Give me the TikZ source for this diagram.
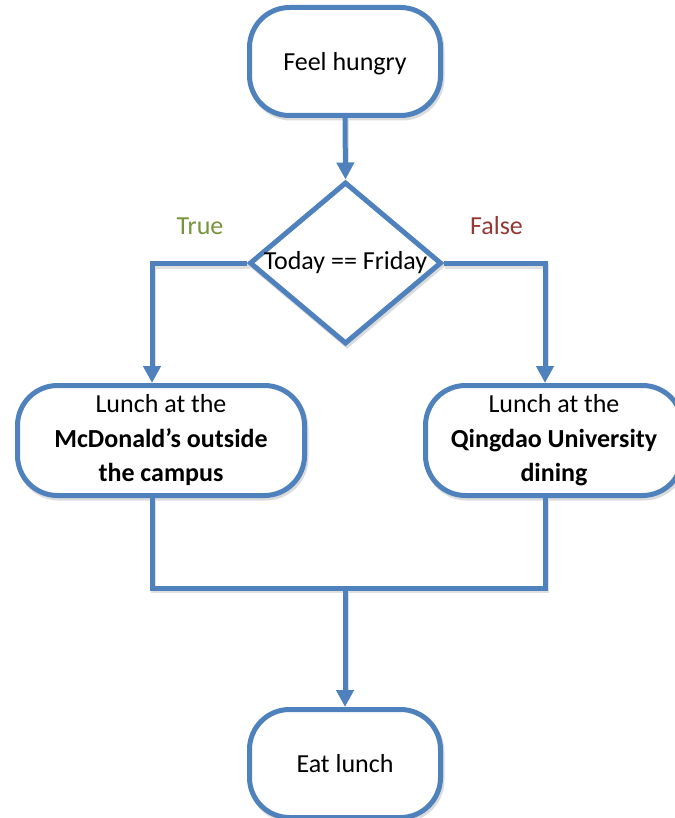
\documentclass[tikz,border=0pt]{standalone}
\usepackage{fontspec}
\setmainfont{Carlito}
\usetikzlibrary{shapes.geometric,arrows.meta}
\definecolor{flowblue}{HTML}{4F81BD}
\definecolor{truegreen}{HTML}{77933C}
\definecolor{falsered}{HTML}{953735}
\tikzset{
  shadowed/.style={preaction={draw=black!14, line width=5pt, transform canvas={shift={(1.5pt,-2.5pt)}}}},
  term/.style={shadowed, draw=flowblue, line width=5pt, rounded corners=40pt, fill=white,
    minimum width=191pt, minimum height=108pt, inner sep=0pt, align=center,
    font=\fontsize{26}{34.5}\selectfont},
  decision/.style={shadowed, draw=flowblue, line width=5pt, fill=white, shape=diamond,
    minimum width=192pt, minimum height=162pt, inner sep=0pt},
  lbl/.style={font=\fontsize{26}{34.5}\selectfont, inner sep=0pt},
  conn/.style={draw=flowblue, line width=5pt, -{Triangle[width=17pt,length=17pt]}},
  plainconn/.style={draw=flowblue, line width=5pt},
  lshadow/.style={draw=black!12, line width=5pt, transform canvas={shift={(1.5pt,-2.5pt)}}},
}
\begin{document}
\begin{tikzpicture}[x=1pt,y=-1pt]
\useasboundingbox (0,0) rectangle (674,818);
\coordinate (lx) at (152,0);
\coordinate (rx) at (545,0);
\coordinate (jy) at (0,588);
\coordinate (j) at (345,588);
% shadows of connectors
\begin{scope}
\draw[lshadow] (345,118) -- (345,172);
\draw[lshadow] (248,264) -- (152,264) -- (152,370);
\draw[lshadow] (443,264) -- (545,264) -- (545,370);
\draw[lshadow] (152,495) -- (152,588) -- (545,588) -- (545,495);
\draw[lshadow] (345,588) -- (345,690);
\end{scope}
% nodes
\node[term, text depth=0pt] (feel) at (345,61.5) {Feel hungry};
\node[decision] (dia) at (345.5,263) {};
\node[lbl] (q) at (dia.center) {Today == Friday};
\node[lbl, text=truegreen] (tl) at (200,226) {True};
\node[lbl, text=falsered] (fl) at (496.5,226) {False};
\node[term, minimum width=287pt, minimum height=110pt] (mc) at (161,440.5)
  {Lunch at the\\\textbf{McDonald’s outside}\\\textbf{the campus}};
\node[term, minimum width=257pt, minimum height=110pt] (qd) at (554,440.5)
  {Lunch at the\\\textbf{Qingdao University}\\\textbf{dining}};
\node[term] (eat) at (345,763.5) {Eat lunch};
% connectors
\draw[conn] (feel.south) -- (dia.north);
\draw[conn] (dia.west) -- (dia.west -| lx) -- (mc.north -| lx);
\draw[conn] (dia.east) -- (dia.east -| rx) -- (qd.north -| rx);
\draw[plainconn] (mc.south -| lx) -- (lx |- jy) -- (rx |- jy) -- (qd.south -| rx);
\draw[conn] (j) -- (eat.north);
\end{tikzpicture}
\end{document}
